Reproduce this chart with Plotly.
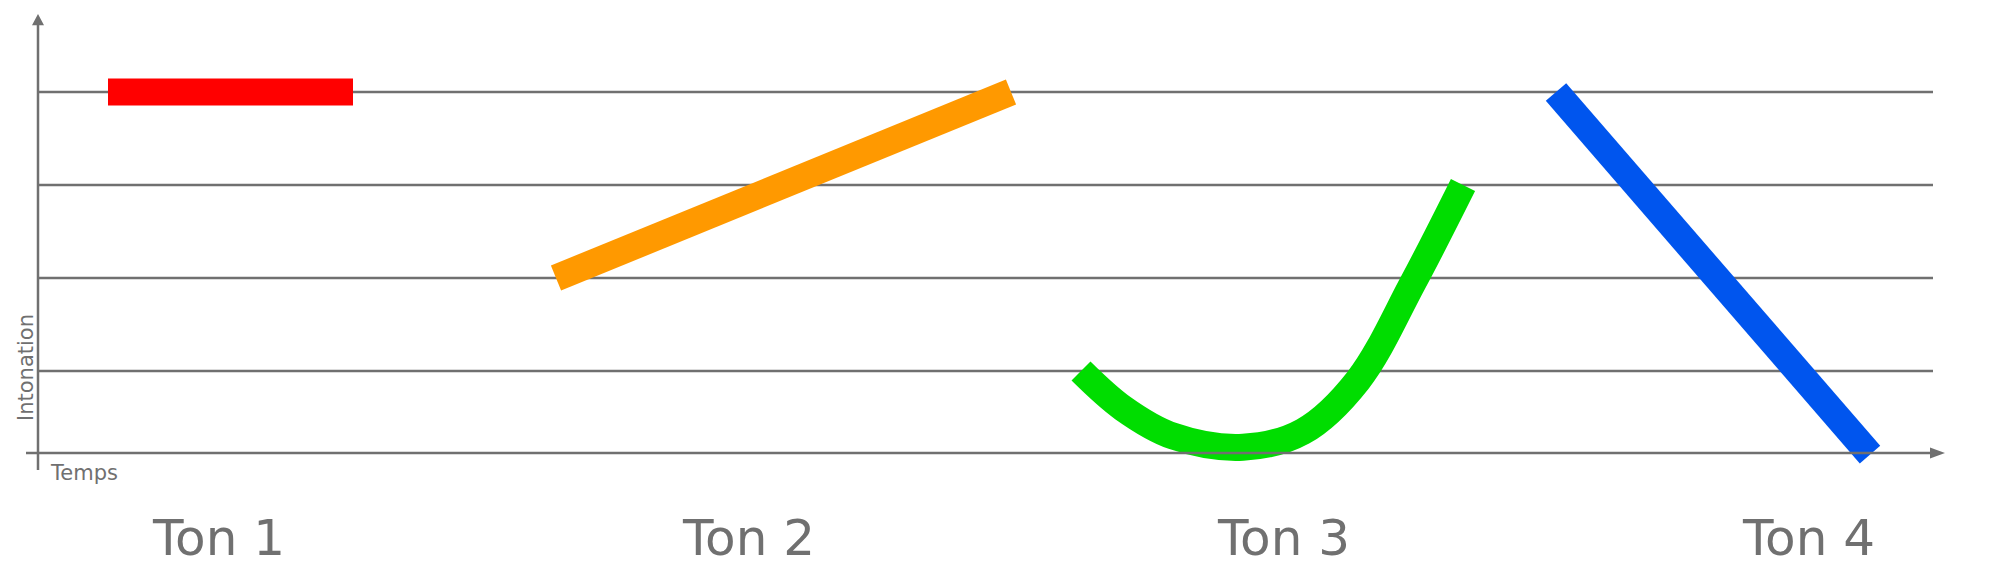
import plotly.graph_objects as go

# Tone contours: time (x, px-like units) and pitch level (1..5)
tone_names = ["Ton 1", "Ton 2", "Ton 3", "Ton 4"]
tone_colors = ["#ff0000", "#ff9900", "#00dd00", "#0055ee"]
t1_x = [100, 345]; t1_p = [5, 5]
t2_x = [548, 1003]; t2_p = [3, 5]
t3_x = [1073, 1115, 1165, 1235, 1295, 1350, 1405, 1455]
t3_p = [2, 1.6, 1.3, 1.18, 1.35, 1.9, 2.95, 4]
t4_x = [1548, 1862]; t4_p = [5, 1.1]
tone_xs = [t1_x, t2_x, t3_x, t4_x]
tone_ps = [t1_p, t2_p, t3_p, t4_p]
label_x = [210, 740, 1275, 1800]
levels = [2, 3, 4, 5]

grey = "#707070"
fig = go.Figure()
for xs, ps, c in zip(tone_xs, tone_ps, tone_colors):
    fig.add_trace(go.Scatter(x=xs, y=ps, mode="lines", line=dict(color=c, width=27, shape="spline"),
                             hoverinfo="skip", showlegend=False))

shapes = []
for lv in levels:
    shapes.append(dict(type="line", x0=30, x1=1925, y0=lv, y1=lv, line=dict(color=grey, width=2.5), layer="below"))
base = 5 - (445 - 84) / 93
shapes.append(dict(type="line", x0=18, x1=1925, y0=base, y1=base, line=dict(color=grey, width=2.5)))
shapes.append(dict(type="line", x0=30, x1=30, y0=5 - (462 - 84) / 93, y1=5 + (84 - 14) / 93, line=dict(color=grey, width=2.5)))
shapes.append(dict(type="path", path=f"M 1922 {base-0.06} L 1937 {base} L 1922 {base+0.06} Z", fillcolor=grey, line=dict(width=0)))
top = 5 + (84 - 6) / 93
shapes.append(dict(type="path", path=f"M 24 {top-0.12} L 30 {top} L 36 {top-0.12} Z", fillcolor=grey, line=dict(width=0)))

ann = [dict(x=x, y=5 - (530 - 84) / 93, text=n, showarrow=False, font=dict(size=50, color=grey))
       for x, n in zip(label_x, tone_names)]
ann.append(dict(x=40, y=5 - (465 - 84) / 93, text="Temps", showarrow=False, xanchor="left",
                font=dict(size=21, color=grey)))
ann.append(dict(x=18, y=5 - (360 - 84) / 93, text="Intonation", showarrow=False, textangle=-90,
                font=dict(size=21, color=grey)))

fig.update_layout(width=2000, height=580, margin=dict(l=0, r=0, t=0, b=0),
                  plot_bgcolor="white", paper_bgcolor="white",
                  font=dict(family="DejaVu Sans"),
                  xaxis=dict(range=[0, 2000], visible=False),
                  yaxis=dict(range=[5 - 496 / 93, 5 + 84 / 93], visible=False),
                  shapes=shapes, annotations=ann)
fig.write_html("out.html")
